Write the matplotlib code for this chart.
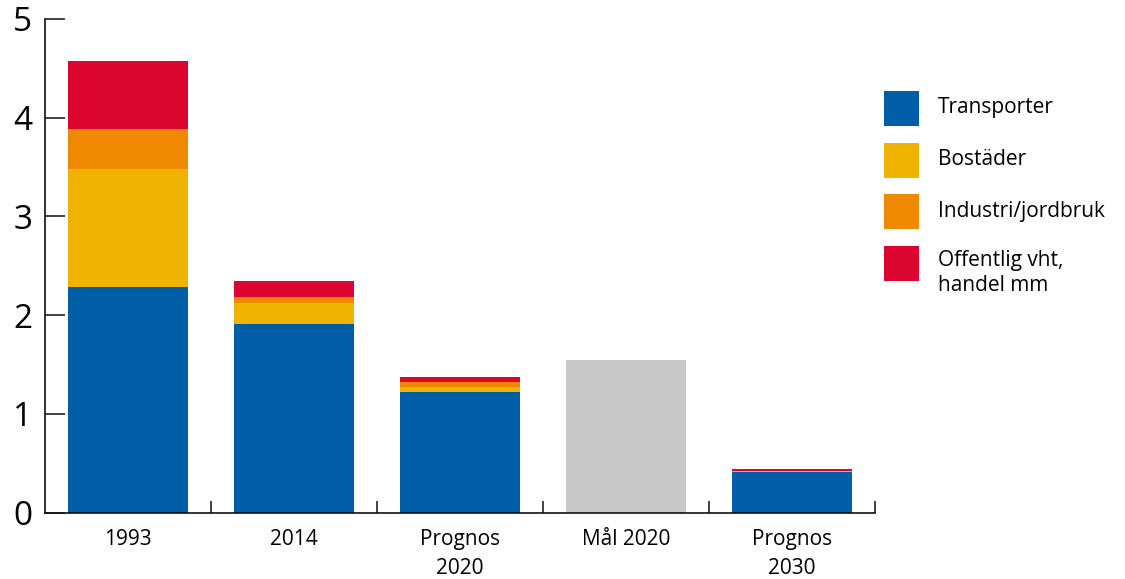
import matplotlib
matplotlib.use("Agg")
import matplotlib.pyplot as plt
import numpy as np
from matplotlib.patches import Rectangle

plt.rcParams['font.family'] = ['Open Sans', 'DejaVu Sans']

# data
kategorier = ['1993', '2014', 'Prognos\n2020', 'Mål 2020', 'Prognos\n2030']
transporter = [2.29, 1.91, 1.22, 0.0, 0.41]
bostader    = [1.19, 0.21, 0.05, 0.0, 0.008]
industri    = [0.41, 0.06, 0.05, 0.0, 0.008]
offentlig   = [0.68, 0.17, 0.05, 0.0, 0.016]
mal         = [0.0, 0.0, 0.0, 1.55, 0.0]

serier = ['Transporter', 'Bostäder', 'Industri/jordbruk', 'Offentlig vht,\nhandel mm']
farger = ['#005ea8', '#f0b400', '#ef8a00', '#dc0530']
gra = '#c8c8c8'

fig = plt.figure(figsize=(11.25, 5.79), dpi=100)
ax = fig.add_axes([0.0397, 0.1145, 0.7381, 0.8527])

x = np.arange(len(kategorier))
w = 0.723
botten = np.zeros(len(x))
for vals, col in zip([transporter, bostader, industri, offentlig], farger):
    ax.bar(x, vals, w, bottom=botten, color=col, linewidth=0)
    botten += np.array(vals)
ax.bar(x, mal, w, color=gra, linewidth=0)

ax.set_xlim(-0.5, len(x) - 0.5)
ax.set_ylim(0, 5)

ax.spines['top'].set_visible(False)
ax.spines['right'].set_visible(False)
for s in ['left', 'bottom']:
    ax.spines[s].set_linewidth(1.2)
    ax.spines[s].set_color('#111111')

ax.set_yticks(range(6))
ax.tick_params(axis='y', direction='in', length=14.5, width=1.1,
               labelsize=24, pad=9, color='#111111')

# boundaries as ticks, names in the middle of each slot
ax.set_xticks(list(x[:-1] + 0.5) + [len(x) - 0.5])
ax.set_xticklabels([])
ax.tick_params(axis='x', which='major', direction='in', length=8.5, width=1.1, color='#111111')
ax.set_xticks(x, minor=True)
ax.set_xticklabels(kategorier, minor=True, fontsize=15, linespacing=1.5)
ax.tick_params(axis='x', which='minor', length=0, pad=12)

# legend drawn by hand on the right
for i, (namn, col) in enumerate(zip(serier, farger)):
    y0 = 1 - (126 + i * 51.7) / 579
    fig.add_artist(Rectangle((884 / 1125, y0), 35 / 1125, 35 / 579,
                             transform=fig.transFigure, color=col, linewidth=0))
    if i == 3:
        fig.text(938 / 1125, 1 - 250 / 579, namn, fontsize=15, va='top',
                 ha='left', linespacing=1.25, transform=fig.transFigure)
    else:
        fig.text(938 / 1125, 1 - (108 + i * 51.7) / 579, namn, fontsize=15,
                 va='center', ha='left', transform=fig.transFigure)

fig.savefig('out.png', dpi=100)
